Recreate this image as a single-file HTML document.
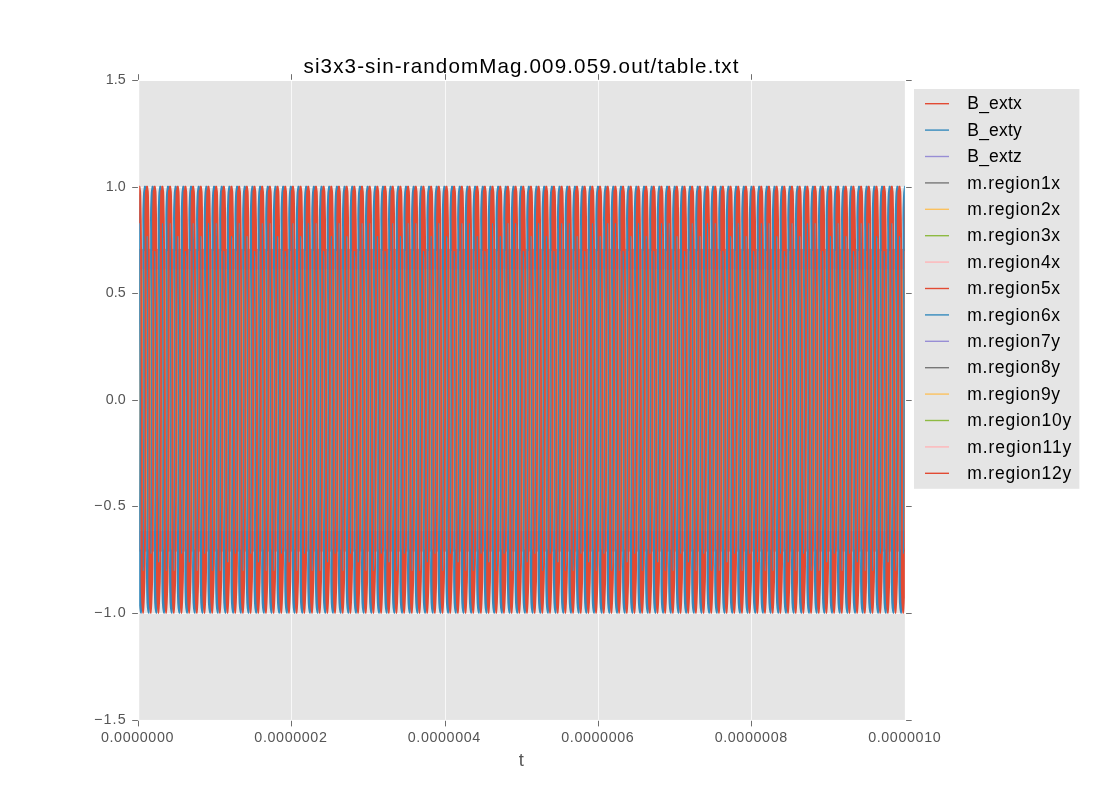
<!DOCTYPE html>
<html><head><meta charset="utf-8"><title>plot</title>
<style>html,body{margin:0;padding:0;background:#fff}svg{display:block}text{font-family:"Liberation Sans",sans-serif}</style></head><body>
<svg width="1100" height="800" viewBox="0 0 1100 800">
<rect width="1100" height="800" fill="#fff"/>
<rect x="139.20" y="81.00" width="765.65" height="638.90" fill="#E5E5E5"/>
<path d="M291.5 81.0V719.9M445.5 81.0V719.9M598.5 81.0V719.9M751.5 81.0V719.9M139.2 187.5H904.9M139.2 293.5H904.9M139.2 400.5H904.9M139.2 506.5H904.9M139.2 613.5H904.9" stroke="#fff" stroke-width="1" stroke-opacity="0.72" fill="none"/>
<defs><filter id="f" filterUnits="userSpaceOnUse" x="0" y="0" width="1100" height="800"><feOffset dx="0" dy="0"/></filter><clipPath id="c"><rect x="139.20" y="81.00" width="765.65" height="638.90"/></clipPath>
<g id="t0">
<polygon fill="#348ABD" points="-1.68,400.0 -2.00,304.3 -2.45,268.1 -2.50,248.9 -2.50,229.7 -2.62,219.1 -2.50,208.4 -2.10,196.7 -1.85,192.4 -1.45,189.2 -1.10,187.1 -0.95,186.2 -0.60,185.7 0.60,185.7 0.95,186.2 1.15,187.1 1.45,189.2 1.80,191.8 2.30,195.6 2.55,208.4 2.75,219.1 2.95,238.2 3.35,304.3 3.80,400.0 2.16,400.0 1.65,304.3 0.95,257.4 0.50,251.0 -0.40,251.0 -0.47,257.4 -0.15,304.3 -0.04,400.0"/>
<polygon fill="#348ABD" points="2.16,400.0 1.84,496.2 1.39,532.4 1.24,549.5 1.04,566.5 1.09,581.4 1.24,592.1 1.54,602.8 1.94,608.1 2.44,611.3 2.94,613.0 3.44,613.8 4.19,613.8 4.44,613.0 4.74,611.3 5.04,608.1 5.69,602.8 6.09,592.1 6.44,581.4 6.79,562.3 7.19,496.2 7.64,400.0 6.00,400.0 5.49,496.2 4.79,543.1 4.34,549.5 3.44,549.5 3.37,543.1 3.69,496.2 3.80,400.0"/>
<polygon fill="#E24A33" points="-0.19,400.0 -0.30,304.3 -0.43,238.2 -0.55,219.1 -0.40,208.4 -0.10,195.6 0.08,190.5 0.85,189.6 0.95,187.1 1.10,186.2 1.45,185.7 2.65,185.7 3.00,186.2 3.20,187.1 3.50,189.2 3.85,191.8 4.00,195.6 4.25,208.4 4.45,219.1 4.65,238.2 5.10,304.3 5.55,400.0 3.65,400.0 3.30,304.3 2.75,238.2 2.55,223.3 1.65,223.3 1.60,238.2 1.63,304.3 1.71,400.0"/>
<polygon fill="#E24A33" points="3.65,400.0 3.54,496.2 3.41,562.3 3.39,581.4 3.59,592.1 3.99,602.8 4.39,608.1 4.79,611.3 5.09,613.0 5.49,613.8 6.24,613.8 6.49,613.0 6.79,611.3 7.09,608.1 7.39,602.8 7.79,592.1 8.14,581.4 8.49,562.3 8.94,496.2 9.39,400.0 7.49,400.0 7.14,496.2 6.59,562.3 6.39,570.8 5.49,570.8 5.44,562.3 5.47,496.2 5.55,400.0"/>
</g>
<g id="t1">
<polygon fill="#348ABD" points="-1.68,400.0 -2.00,304.3 -2.45,268.1 -2.50,248.9 -2.50,229.7 -2.62,219.1 -2.50,208.4 -2.10,196.7 -1.85,192.4 -1.45,189.2 -1.10,187.1 -0.95,186.2 -0.60,185.7 0.60,185.7 0.95,186.2 1.15,187.1 1.45,189.2 1.80,191.8 2.30,195.6 2.55,208.4 2.75,219.1 2.95,238.2 3.35,304.3 3.80,400.0 2.16,400.0 1.65,304.3 0.95,257.4 0.50,251.0 -0.40,251.0 -0.47,257.4 -0.15,304.3 -0.04,400.0"/>
<polygon fill="#348ABD" points="2.16,400.0 1.84,496.2 1.39,532.4 1.24,549.5 1.04,566.5 1.09,581.4 1.24,592.1 1.54,602.8 1.94,608.1 2.44,611.3 2.94,613.0 3.44,613.8 4.19,613.8 4.44,613.0 4.74,611.3 5.04,608.1 5.69,602.8 6.09,592.1 6.44,581.4 6.79,562.3 7.19,496.2 7.64,400.0 6.00,400.0 5.49,496.2 4.79,543.1 4.34,549.5 3.44,549.5 3.37,543.1 3.69,496.2 3.80,400.0"/>
<polygon fill="#E24A33" points="-0.19,400.0 -0.30,304.3 -0.43,238.2 -0.55,219.1 -0.40,208.4 -0.10,195.6 0.08,190.5 0.85,189.6 0.95,187.1 1.10,186.2 1.45,185.7 2.65,185.7 3.00,186.2 3.20,187.1 3.50,189.2 3.85,191.8 4.00,195.6 4.25,208.4 4.45,219.1 4.65,238.2 5.10,304.3 5.55,400.0 3.65,400.0 3.30,304.3 2.75,238.2 2.55,236.1 1.65,236.1 1.60,238.2 1.63,304.3 1.71,400.0"/>
<polygon fill="#E24A33" points="3.65,400.0 3.54,496.2 3.41,562.3 3.39,581.4 3.59,592.1 3.99,602.8 4.39,608.1 4.79,611.3 5.09,613.0 5.49,613.8 6.24,613.8 6.49,613.0 6.79,611.3 7.09,608.1 7.39,602.8 7.79,592.1 8.14,581.4 8.49,562.3 8.94,496.2 9.39,400.0 7.49,400.0 7.14,496.2 6.84,547.3 6.39,553.7 5.49,553.7 5.42,547.3 5.47,496.2 5.55,400.0"/>
</g>
<g id="t2">
<polygon fill="#348ABD" points="-1.68,400.0 -2.00,304.3 -2.45,268.1 -2.50,248.9 -2.50,229.7 -2.62,219.1 -2.50,208.4 -2.10,196.7 -1.85,192.4 -1.45,189.2 -1.10,187.1 -0.95,186.2 -0.60,185.7 0.60,185.7 0.95,186.2 1.15,187.1 1.45,189.2 1.80,191.8 2.30,195.6 2.55,208.4 2.75,219.1 2.95,238.2 3.35,304.3 3.80,400.0 2.16,400.0 1.65,304.3 0.95,257.4 0.50,251.0 -0.40,251.0 -0.47,257.4 -0.15,304.3 -0.04,400.0"/>
<polygon fill="#348ABD" points="2.16,400.0 1.84,496.2 1.39,532.4 1.24,549.5 1.04,566.5 1.09,581.4 1.24,592.1 1.54,602.8 1.94,608.1 2.44,611.3 2.94,613.0 3.44,613.8 4.19,613.8 4.44,613.0 4.74,611.3 5.04,608.1 5.69,602.8 6.09,592.1 6.44,581.4 6.79,562.3 7.19,496.2 7.64,400.0 6.00,400.0 5.49,496.2 4.79,543.1 4.34,549.5 3.44,549.5 3.37,543.1 3.69,496.2 3.80,400.0"/>
<polygon fill="#E24A33" points="-0.19,400.0 -0.30,304.3 -0.43,238.2 -0.55,219.1 -0.40,208.4 -0.10,195.6 0.08,190.5 0.85,189.6 0.95,187.1 1.10,186.2 1.45,185.7 2.65,185.7 3.00,186.2 3.20,187.1 3.50,189.2 3.85,191.8 4.00,195.6 4.25,208.4 4.45,219.1 4.65,238.2 5.10,304.3 5.55,400.0 3.65,400.0 3.30,304.3 3.00,257.4 2.55,251.0 1.65,251.0 1.58,257.4 1.63,304.3 1.71,400.0"/>
<polygon fill="#E24A33" points="3.65,400.0 3.54,496.2 3.41,562.3 3.39,581.4 3.59,592.1 3.99,602.8 4.39,608.1 4.79,611.3 5.09,613.0 5.49,613.8 6.24,613.8 6.49,613.0 6.79,611.3 7.09,608.1 7.39,602.8 7.79,592.1 8.14,581.4 8.49,562.3 8.94,496.2 9.39,400.0 7.49,400.0 7.14,496.2 6.59,562.3 6.39,562.3 5.49,562.3 5.44,562.3 5.47,496.2 5.55,400.0"/>
</g>
</defs>
<g clip-path="url(#c)">
<rect x="139.2" y="269.8" width="765.7" height="260.9" fill="#D9A066"/>
<rect x="139.2" y="248.9" width="765.7" height="20.9" fill="#F07E66"/>
<rect x="139.2" y="530.7" width="765.7" height="20.9" fill="#F07E66"/>
<use href="#t0" x="912.75"/>
<use href="#t0" x="905.07"/>
<use href="#t1" x="897.39"/>
<use href="#t0" x="889.71"/>
<use href="#t2" x="882.04"/>
<use href="#t1" x="874.36"/>
<use href="#t0" x="866.68"/>
<use href="#t0" x="859.00"/>
<use href="#t2" x="851.32"/>
<use href="#t1" x="843.65"/>
<use href="#t0" x="835.97"/>
<use href="#t1" x="828.29"/>
<use href="#t2" x="820.61"/>
<use href="#t0" x="812.93"/>
<use href="#t0" x="805.26"/>
<use href="#t1" x="797.58"/>
<use href="#t0" x="789.90"/>
<use href="#t2" x="782.22"/>
<use href="#t1" x="774.54"/>
<use href="#t0" x="766.87"/>
<use href="#t0" x="759.19"/>
<use href="#t2" x="751.51"/>
<use href="#t1" x="743.83"/>
<use href="#t0" x="736.15"/>
<use href="#t1" x="728.48"/>
<use href="#t2" x="720.80"/>
<use href="#t0" x="713.12"/>
<use href="#t0" x="705.44"/>
<use href="#t1" x="697.76"/>
<use href="#t0" x="690.09"/>
<use href="#t2" x="682.41"/>
<use href="#t1" x="674.73"/>
<use href="#t0" x="667.05"/>
<use href="#t0" x="659.37"/>
<use href="#t2" x="651.70"/>
<use href="#t1" x="644.02"/>
<use href="#t0" x="636.34"/>
<use href="#t1" x="628.66"/>
<use href="#t2" x="620.98"/>
<use href="#t0" x="613.31"/>
<use href="#t0" x="605.63"/>
<use href="#t1" x="597.95"/>
<use href="#t0" x="590.27"/>
<use href="#t2" x="582.59"/>
<use href="#t1" x="574.92"/>
<use href="#t0" x="567.24"/>
<use href="#t0" x="559.56"/>
<use href="#t2" x="551.88"/>
<use href="#t1" x="544.20"/>
<use href="#t0" x="536.53"/>
<use href="#t1" x="528.85"/>
<use href="#t2" x="521.17"/>
<use href="#t0" x="513.49"/>
<use href="#t0" x="505.81"/>
<use href="#t1" x="498.14"/>
<use href="#t0" x="490.46"/>
<use href="#t2" x="482.78"/>
<use href="#t1" x="475.10"/>
<use href="#t0" x="467.42"/>
<use href="#t0" x="459.75"/>
<use href="#t2" x="452.07"/>
<use href="#t1" x="444.39"/>
<use href="#t0" x="436.71"/>
<use href="#t1" x="429.03"/>
<use href="#t2" x="421.36"/>
<use href="#t0" x="413.68"/>
<use href="#t0" x="406.00"/>
<use href="#t1" x="398.32"/>
<use href="#t0" x="390.64"/>
<use href="#t2" x="382.97"/>
<use href="#t1" x="375.29"/>
<use href="#t0" x="367.61"/>
<use href="#t0" x="359.93"/>
<use href="#t2" x="352.25"/>
<use href="#t1" x="344.58"/>
<use href="#t0" x="336.90"/>
<use href="#t1" x="329.22"/>
<use href="#t2" x="321.54"/>
<use href="#t0" x="313.86"/>
<use href="#t0" x="306.19"/>
<use href="#t1" x="298.51"/>
<use href="#t0" x="290.83"/>
<use href="#t2" x="283.15"/>
<use href="#t1" x="275.47"/>
<use href="#t0" x="267.80"/>
<use href="#t0" x="260.12"/>
<use href="#t2" x="252.44"/>
<use href="#t1" x="244.76"/>
<use href="#t0" x="237.08"/>
<use href="#t1" x="229.41"/>
<use href="#t2" x="221.73"/>
<use href="#t0" x="214.05"/>
<use href="#t0" x="206.37"/>
<use href="#t1" x="198.69"/>
<use href="#t0" x="191.02"/>
<use href="#t2" x="183.34"/>
<use href="#t1" x="175.66"/>
<use href="#t0" x="167.98"/>
<use href="#t0" x="160.30"/>
<use href="#t2" x="152.63"/>
<use href="#t1" x="144.95"/>
<use href="#t0" x="137.27"/>
<rect x="139.2" y="269.8" width="765.7" height="260.9" fill="#E8A070" fill-opacity="0.07"/>
</g>
<path d="M138.5 720.8v5.6M138.5 79.8v-5.6M291.5 720.8v5.6M291.5 79.8v-5.6M445.5 720.8v5.6M445.5 79.8v-5.6M598.5 720.8v5.6M598.5 79.8v-5.6M751.5 720.8v5.6M751.5 79.8v-5.6M137.9 80.5h-5.7M906.1 80.5h5.6M137.9 187.5h-5.7M906.1 187.5h5.6M137.9 293.5h-5.7M906.1 293.5h5.6M137.9 400.5h-5.7M906.1 400.5h5.6M137.9 506.5h-5.7M906.1 506.5h5.6M137.9 613.5h-5.7M906.1 613.5h5.6M137.9 720.5h-5.7M906.1 720.5h5.6" stroke="#555" stroke-width="1" stroke-opacity="0.85" fill="none"/>
<g filter="url(#f)">
<text x="137.2" y="742.2" font-size="14.3" fill="#555" text-anchor="middle" textLength="72.5" lengthAdjust="spacing">0.0000000</text>
<text x="290.6" y="742.2" font-size="14.3" fill="#555" text-anchor="middle" textLength="72.5" lengthAdjust="spacing">0.0000002</text>
<text x="444.0" y="742.2" font-size="14.3" fill="#555" text-anchor="middle" textLength="72.5" lengthAdjust="spacing">0.0000004</text>
<text x="597.5" y="742.2" font-size="14.3" fill="#555" text-anchor="middle" textLength="72.5" lengthAdjust="spacing">0.0000006</text>
<text x="750.9" y="742.2" font-size="14.3" fill="#555" text-anchor="middle" textLength="72.5" lengthAdjust="spacing">0.0000008</text>
<text x="904.4" y="742.2" font-size="14.3" fill="#555" text-anchor="middle" textLength="72.5" lengthAdjust="spacing">0.0000010</text>
<text x="125.6" y="84.1" font-size="14.3" fill="#555" text-anchor="end" textLength="19.9" lengthAdjust="spacing">1.5</text>
<text x="125.6" y="191.1" font-size="14.3" fill="#555" text-anchor="end" textLength="19.9" lengthAdjust="spacing">1.0</text>
<text x="125.6" y="297.1" font-size="14.3" fill="#555" text-anchor="end" textLength="19.9" lengthAdjust="spacing">0.5</text>
<text x="125.6" y="404.1" font-size="14.3" fill="#555" text-anchor="end" textLength="19.9" lengthAdjust="spacing">0.0</text>
<text x="125.6" y="510.1" font-size="14.3" fill="#555" text-anchor="end" textLength="31.6" lengthAdjust="spacing">−0.5</text>
<text x="125.6" y="617.1" font-size="14.3" fill="#555" text-anchor="end" textLength="31.6" lengthAdjust="spacing">−1.0</text>
<text x="125.6" y="724.1" font-size="14.3" fill="#555" text-anchor="end" textLength="31.6" lengthAdjust="spacing">−1.5</text>
<text x="521.3" y="765.8" font-size="18.4" fill="#555" text-anchor="middle">t</text>
<text x="521" y="72.5" font-size="20.6" fill="#000" text-anchor="middle" textLength="435" lengthAdjust="spacing">si3x3-sin-randomMag.009.059.out/table.txt</text>
</g>
<rect x="914" y="89" width="165.4" height="399.8" fill="#E5E5E5"/>
<g filter="url(#f)">
<path d="M925 103.7h24" stroke="#E24A33" stroke-width="1.39"/>
<text x="967.3" y="109.3" font-size="17.5" fill="#000" textLength="54.4" lengthAdjust="spacing">B_extx</text>
<path d="M925 130.1h24" stroke="#348ABD" stroke-width="1.39"/>
<text x="967.3" y="135.7" font-size="17.5" fill="#000" textLength="54.4" lengthAdjust="spacing">B_exty</text>
<path d="M925 156.5h24" stroke="#988ED5" stroke-width="1.39"/>
<text x="967.3" y="162.1" font-size="17.5" fill="#000" textLength="54.4" lengthAdjust="spacing">B_extz</text>
<path d="M925 182.9h24" stroke="#777777" stroke-width="1.39"/>
<text x="967.3" y="188.5" font-size="17.5" fill="#000" textLength="92.8" lengthAdjust="spacing">m.region1x</text>
<path d="M925 209.3h24" stroke="#FBC15E" stroke-width="1.39"/>
<text x="967.3" y="214.9" font-size="17.5" fill="#000" textLength="92.8" lengthAdjust="spacing">m.region2x</text>
<path d="M925 235.7h24" stroke="#8EBA42" stroke-width="1.39"/>
<text x="967.3" y="241.3" font-size="17.5" fill="#000" textLength="92.8" lengthAdjust="spacing">m.region3x</text>
<path d="M925 262.1h24" stroke="#FFB5B8" stroke-width="1.39"/>
<text x="967.3" y="267.7" font-size="17.5" fill="#000" textLength="92.8" lengthAdjust="spacing">m.region4x</text>
<path d="M925 288.5h24" stroke="#E24A33" stroke-width="1.39"/>
<text x="967.3" y="294.1" font-size="17.5" fill="#000" textLength="92.8" lengthAdjust="spacing">m.region5x</text>
<path d="M925 314.9h24" stroke="#348ABD" stroke-width="1.39"/>
<text x="967.3" y="320.5" font-size="17.5" fill="#000" textLength="92.8" lengthAdjust="spacing">m.region6x</text>
<path d="M925 341.3h24" stroke="#988ED5" stroke-width="1.39"/>
<text x="967.3" y="346.9" font-size="17.5" fill="#000" textLength="92.8" lengthAdjust="spacing">m.region7y</text>
<path d="M925 367.7h24" stroke="#777777" stroke-width="1.39"/>
<text x="967.3" y="373.3" font-size="17.5" fill="#000" textLength="92.8" lengthAdjust="spacing">m.region8y</text>
<path d="M925 394.1h24" stroke="#FBC15E" stroke-width="1.39"/>
<text x="967.3" y="399.7" font-size="17.5" fill="#000" textLength="92.8" lengthAdjust="spacing">m.region9y</text>
<path d="M925 420.5h24" stroke="#8EBA42" stroke-width="1.39"/>
<text x="967.3" y="426.1" font-size="17.5" fill="#000" textLength="104.0" lengthAdjust="spacing">m.region10y</text>
<path d="M925 446.9h24" stroke="#FFB5B8" stroke-width="1.39"/>
<text x="967.3" y="452.5" font-size="17.5" fill="#000" textLength="104.0" lengthAdjust="spacing">m.region11y</text>
<path d="M925 473.3h24" stroke="#E24A33" stroke-width="1.39"/>
<text x="967.3" y="478.9" font-size="17.5" fill="#000" textLength="104.0" lengthAdjust="spacing">m.region12y</text>
</g>
</svg></body></html>
